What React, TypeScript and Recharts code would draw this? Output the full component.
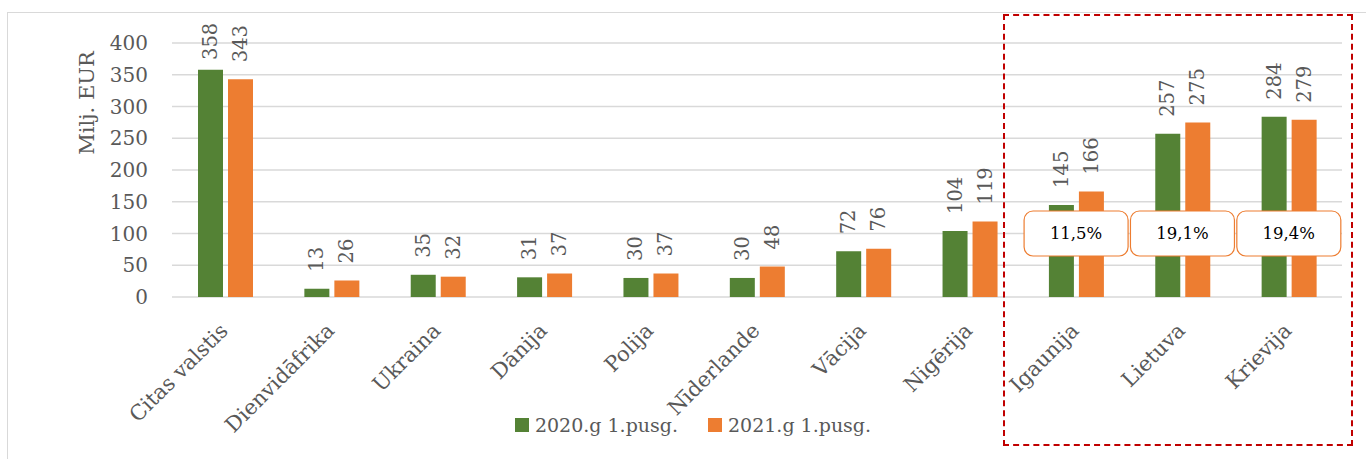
import React from "react";
import { BarChart, Bar, XAxis, YAxis, CartesianGrid, LabelList, ReferenceDot } from "recharts";

const categories = ["Citas valstis", "Dienvidāfrika", "Ukraina", "Dānija", "Polija", "Nīderlande", "Vācija", "Nigērija", "Igaunija", "Lietuva", "Krievija"];
const values2020 = [358, 13, 35, 31, 30, 30, 72, 104, 145, 257, 284];
const values2021 = [343, 26, 32, 37, 37, 48, 76, 119, 166, 275, 279];
const yTicks = [0, 50, 100, 150, 200, 250, 300, 350, 400];
const calloutCategories = ["Igaunija", "Lietuva", "Krievija"];
const calloutTexts = ["11,5%", "19,1%", "19,4%"];
const calloutLevel = 100;
const seriesNames = ["2020.g 1.pusg.", "2021.g 1.pusg."];

const data = categories.map((c, i) => ({ name: c, a: values2020[i], b: values2021[i] }));

const GREEN = "#548235";
const ORANGE = "#ED7D31";
const TEXT = "#595959";
const FONT = "DejaVu Serif, serif";

const ValueLabel = (props: any) => {
  const { x, y, width, value } = props;
  const cx = x + width / 2;
  const ay = Math.max(y - 17, 60);
  return (
    <text x={cx} y={ay} transform={`rotate(-90, ${cx}, ${ay})`} textAnchor="start" dominantBaseline="central" fill={TEXT} fontSize={19.5} fontFamily={FONT}>
      {value}
    </text>
  );
};

const XTick = (props: any) => {
  const { x, y, payload } = props;
  return (
    <g transform={`translate(${x + 4}, ${y + 27}) rotate(-45)`}>
      <text x={0} y={0} textAnchor="end" fill={TEXT} fontSize={21} fontFamily={FONT}>
        {payload.value}
      </text>
    </g>
  );
};

const YTick = (props: any) => {
  const { x, y, payload } = props;
  return (
    <text x={x} y={y} textAnchor="end" dominantBaseline="central" fill={TEXT} fontSize={20} fontFamily={FONT}>
      {payload.value}
    </text>
  );
};

const Callout = (text: string) => (props: any) => {
  const { cx, cy } = props;
  const w = 104;
  const h = 45;
  return (
    <g>
      <rect x={cx - w / 2} y={cy - h / 2} width={w} height={h} rx={9} ry={9} fill="#ffffff" stroke={ORANGE} strokeWidth={1.2} />
      <text x={cx} y={cy} textAnchor="middle" dominantBaseline="central" fill="#000000" fontSize={16.5} fontFamily={FONT}>
        {text}
      </text>
    </g>
  );
};

const YLabel = (props: any) => {
  const { viewBox } = props;
  const x = viewBox.x + 87;
  const y = viewBox.y + 60;
  return (
    <text x={x} y={y} transform={`rotate(-90, ${x}, ${y})`} textAnchor="middle" dominantBaseline="central" fill={TEXT} fontSize={21} fontFamily={FONT}>
      Milj. EUR
    </text>
  );
};

export default function App() {
  return (
    <div style={{ position: "absolute", left: 0, top: 0, width: 1366, height: 459, background: "#fff", overflow: "hidden", fontFamily: FONT }}>
      <div style={{ position: "absolute", left: 7, top: 12, width: 1400, height: 500, border: "1px solid #d9d9d9", boxSizing: "border-box" }} />
      <BarChart width={1366} height={459} data={data} margin={{ top: 43, right: 24, bottom: 0, left: 0 }} barSize={25} barGap={5}>
        <CartesianGrid vertical={false} stroke="#d9d9d9" strokeWidth={1.5} />
        <XAxis dataKey="name" height={162} axisLine={false} tickLine={false} interval={0} tick={<XTick />} />
        <YAxis width={172} domain={[0, 400]} ticks={yTicks} axisLine={false} tickLine={false} tickSize={0} tickMargin={24}
          tick={<YTick />} label={<YLabel />} />
        <Bar dataKey="a" name={seriesNames[0]} fill={GREEN} isAnimationActive={false}>
          <LabelList dataKey="a" content={<ValueLabel />} />
        </Bar>
        <Bar dataKey="b" name={seriesNames[1]} fill={ORANGE} isAnimationActive={false}>
          <LabelList dataKey="b" content={<ValueLabel />} />
        </Bar>
        {calloutCategories.map((c, i) => (
          <ReferenceDot key={c} x={c} y={calloutLevel} r={1} shape={Callout(calloutTexts[i])} ifOverflow="visible" />
        ))}
      </BarChart>
      <div style={{ position: "absolute", left: 0, width: 1366, top: 414, display: "flex", justifyContent: "center", paddingLeft: 20, boxSizing: "border-box", color: TEXT, fontSize: 19, fontFamily: FONT }}>
        <div style={{ display: "flex", alignItems: "center", marginRight: 30 }}>
          <span style={{ display: "inline-block", width: 14, height: 14, background: GREEN, marginRight: 6 }} />
          {seriesNames[0]}
        </div>
        <div style={{ display: "flex", alignItems: "center" }}>
          <span style={{ display: "inline-block", width: 14, height: 14, background: ORANGE, marginRight: 6 }} />
          {seriesNames[1]}
        </div>
      </div>
      <div style={{ position: "absolute", left: 1003, top: 14, width: 350, height: 432, border: "2px dashed #C00000", boxSizing: "border-box", pointerEvents: "none" }} />
    </div>
  );
}
